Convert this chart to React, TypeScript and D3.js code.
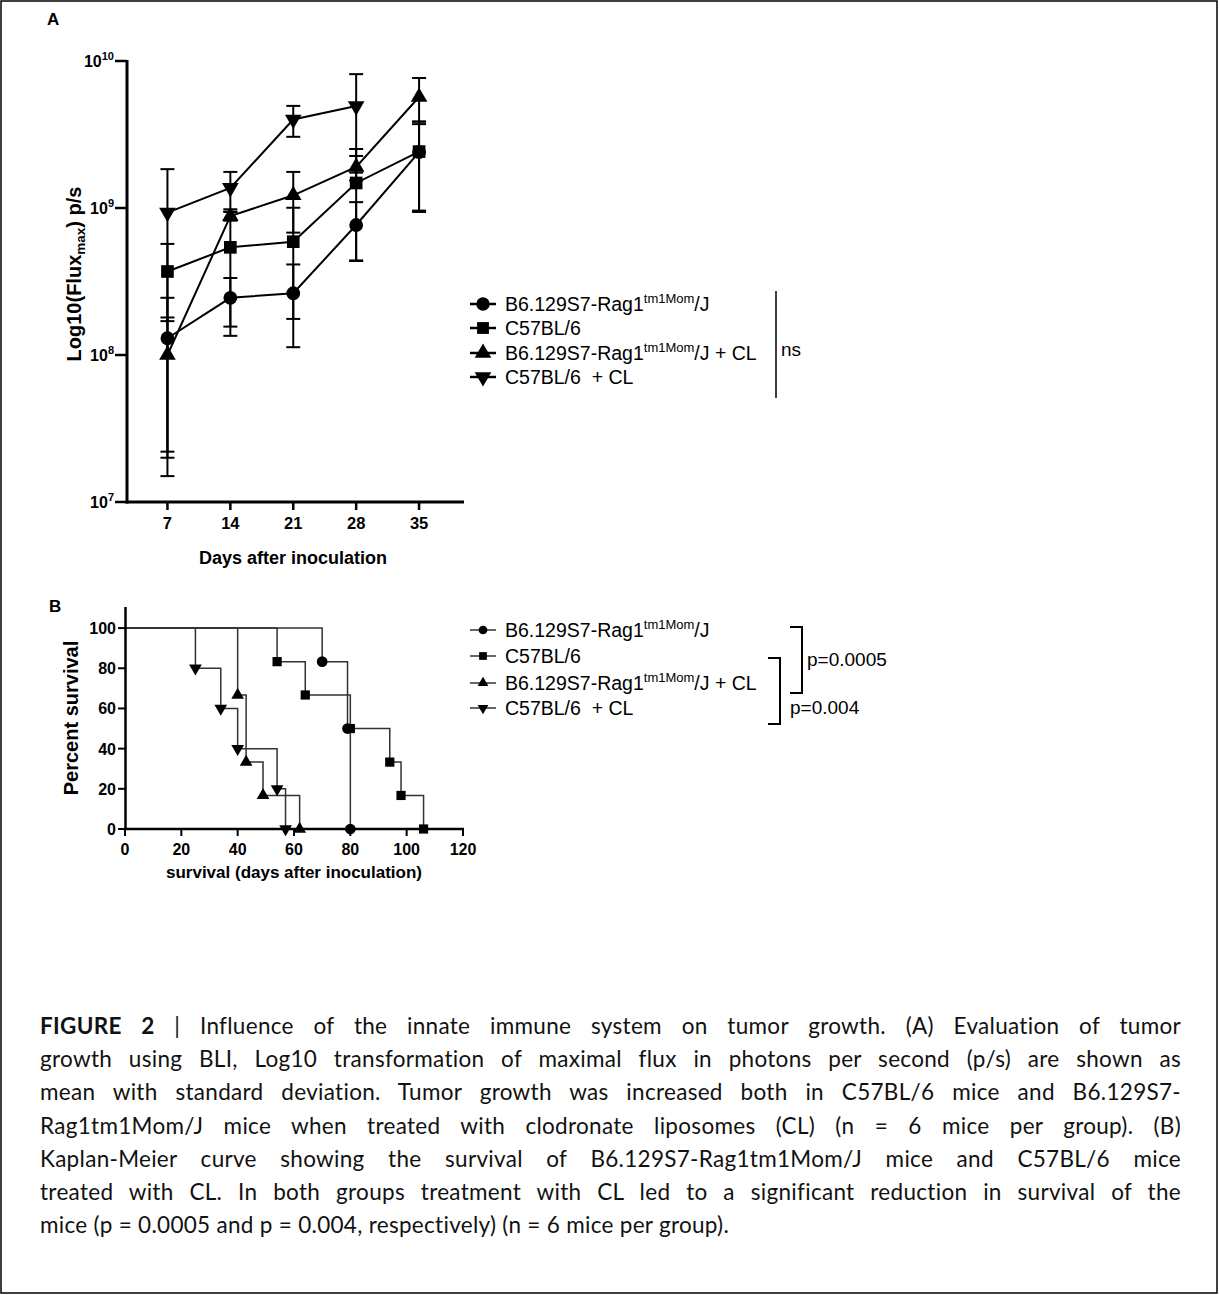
import React, { useLayoutEffect, useRef, useState } from 'react';
import * as d3 from 'd3';

// panel A: tumour growth (mean, SD) per group
const days = [7, 14, 21, 28, 35];
const ragMean = [1.3e8, 2.45e8, 2.63e8, 7.66e8, 2.4e9];
const ragSd = [1.15e8, 0.89e8, 1.5e8, 3.3e8, 1.46e9];
const c57Mean = [3.7e8, 5.4e8, 5.9e8, 1.48e9, 2.42e9];
const c57Sd = [2.0e8, 4.05e8, 4.14e8, 1.04e9, 1.46e9];
const ragClMean = [1.0e8, 8.8e8, 1.22e9, 1.9e9, 5.69e9];
const ragClSd = [0.8e8, 0.6e8, 0.54e9, 0.36e9, 1.97e9];
const c57ClMean = [9.3e8, 1.37e9, 4.0e9, 4.94e9];
const c57ClSd = [9.08e8, 3.9e8, 0.95e9, 3.2e9];
const yTicksA = [1e7, 1e8, 1e9, 1e10];

// panel B: Kaplan-Meier events (day, percent surviving after)
const ragKmDays = [70, 79, 80];
const ragKmSurv = [83.3, 50, 0];
const c57KmDays = [54, 64, 80, 94, 98, 106];
const c57KmSurv = [83.3, 66.7, 50, 33.3, 16.7, 0];
const ragClKmDays = [40, 43, 49, 62];
const ragClKmSurv = [66.7, 33.3, 16.7, 0];
const c57ClKmDays = [25, 34, 40, 54, 57];
const c57ClKmSurv = [80, 60, 40, 20, 0];
const xTicksB = [0, 20, 40, 60, 80, 100, 120];
const yTicksB = [0, 20, 40, 60, 80, 100];

const legendMain = ['B6.129S7-Rag1', 'C57BL/6', 'B6.129S7-Rag1', 'C57BL/6  + CL'];
const legendSup = ['tm1Mom', '', 'tm1Mom', ''];
const legendTail = ['/J', '', '/J + CL', ''];
const shapes = ['circle', 'square', 'up', 'down'];

const captionLines = [
  'Influence of the innate immune system on tumor growth. (A) Evaluation of tumor',
  'growth using BLI, Log10 transformation of maximal flux in photons per second (p/s) are shown as',
  'mean with standard deviation. Tumor growth was increased both in C57BL/6 mice and B6.129S7-',
  'Rag1tm1Mom/J mice when treated with clodronate liposomes (CL) (n = 6 mice per group). (B)',
  'Kaplan-Meier curve showing the survival of B6.129S7-Rag1tm1Mom/J mice and C57BL/6 mice',
  'treated with CL. In both groups treatment with CL led to a significant reduction in survival of the',
  'mice (p = 0.0005 and p = 0.004, respectively) (n = 6 mice per group).',
];

const FONT = '"Liberation Sans", Arial, sans-serif';
const CAP_W = 1141;

function marker(kind: string, size: number) {
  const t = kind === 'circle' ? d3.symbolCircle : kind === 'square' ? d3.symbolSquare : d3.symbolTriangle;
  return d3.symbol(t, size)() as string;
}

function Marker({ kind, x, y, size }: { kind: string; x: number; y: number; size: number }) {
  return (
    <path
      d={marker(kind, size)}
      transform={`translate(${x},${y})${kind === 'down' ? ' rotate(180)' : ''}`}
      fill="#000"
    />
  );
}

function Legend({ rows, lineColor, lineW, sizes }: { rows: number[]; lineColor: string; lineW: number; sizes: number[] }) {
  return (
    <g>
      {rows.map((ly, i) => (
        <g key={i}>
          <line x1={470} x2={496} y1={ly} y2={ly} stroke={lineColor} strokeWidth={lineW} />
          <Marker kind={shapes[i]} x={483} y={ly} size={sizes[i]} />
          <text x={505} y={ly + 6.5} fontSize={19.5} style={{ whiteSpace: 'pre' }}>
            {legendMain[i]}
            {legendSup[i] && <tspan fontSize={13} dy={-8}>{legendSup[i]}</tspan>}
            {legendTail[i] && <tspan dy={legendSup[i] ? 8 : 0}>{legendTail[i]}</tspan>}
          </text>
        </g>
      ))}
    </g>
  );
}

export default function App() {
  const capRef = useRef<SVGGElement>(null);
  const [spacing, setSpacing] = useState<number[]>([]);

  // justify caption lines by word spacing
  useLayoutEffect(() => {
    if (!capRef.current) return;
    const texts = capRef.current.querySelectorAll('text');
    const ws: number[] = [];
    texts.forEach((t, i) => {
      const len = (t as SVGTextElement).getComputedTextLength();
      const full = i === 0 ? 'FIGURE 2 | ' + captionLines[0] : captionLines[i];
      const gaps = full.split(' ').length - 1;
      ws.push(i === captionLines.length - 1 ? 0 : (CAP_W - len) / gaps);
    });
    setSpacing(ws);
  }, []);

  // panel A scales
  const xA = d3.scaleLinear().domain([2.5, 40]).range([127, 464]);
  const yA = d3.scaleLog().domain([1e7, 1e10]).range([502, 61]);

  const growth = [
    { means: ragMean, sds: ragSd },
    { means: c57Mean, sds: c57Sd },
    { means: ragClMean, sds: ragClSd },
    { means: c57ClMean, sds: c57ClSd },
  ];

  const lineA = d3.line<[number, number]>().x(d => xA(d[0])).y(d => yA(d[1]));

  // panel B scales
  const xB = d3.scaleLinear().domain([0, 120]).range([125, 463]);
  const yB = d3.scaleLinear().domain([0, 110]).range([829, 608]);
  const km = [
    { d: ragKmDays, s: ragKmSurv },
    { d: c57KmDays, s: c57KmSurv },
    { d: ragClKmDays, s: ragClKmSurv },
    { d: c57ClKmDays, s: c57ClKmSurv },
  ];
  const stepLine = d3.line<[number, number]>().x(d => xB(d[0])).y(d => yB(d[1])).curve(d3.curveStepAfter);

  return (
    <svg width={1219} height={1295} style={{ position: 'absolute', left: 0, top: 0, background: '#fff' }} fontFamily={FONT}>
      <rect x={0} y={0} width={1219} height={1295} fill="#fff" />
      <rect x={1} y={1} width={1216} height={1292} fill="none" stroke="#000" strokeWidth={1.5} />

      {/* ---------- Panel A ---------- */}
      <text x={47} y={25} fontSize={17} fontWeight="bold">A</text>

      {growth.map((g, gi) => {
        const pts = g.means.map((m, i) => [days[i], m] as [number, number]);
        return (
          <g key={gi}>
            {g.means.map((m, i) => {
              const x = xA(days[i]);
              const hi = m + g.sds[i];
              const loV = m - g.sds[i];
              const lo = loV > 1e7 ? loV : 1e7;
              return (
                <g key={i} stroke="#000" strokeWidth={2}>
                  <line x1={x} x2={x} y1={yA(lo)} y2={yA(hi)} />
                  <line x1={x - 7} x2={x + 7} y1={yA(hi)} y2={yA(hi)} />
                  {loV > 1e7 && <line x1={x - 7} x2={x + 7} y1={yA(lo)} y2={yA(lo)} />}
                </g>
              );
            })}
            <path d={lineA(pts) as string} fill="none" stroke="#000" strokeWidth={2} />
            {pts.map((p, i) => (
              <Marker key={i} kind={shapes[gi]} x={xA(p[0])} y={yA(p[1])} size={shapes[gi] === 'circle' ? 150 : shapes[gi] === 'square' ? 160 : 120} />
            ))}
          </g>
        );
      })}

      {/* axes A */}
      <line x1={127} x2={127} y1={60} y2={503.5} stroke="#000" strokeWidth={3} />
      <line x1={125.5} x2={464} y1={502} y2={502} stroke="#000" strokeWidth={3} />
      {yTicksA.map(t => (
        <g key={t}>
          <line x1={115} x2={127} y1={yA(t)} y2={yA(t)} stroke="#000" strokeWidth={2.5} />
          <text x={114} y={yA(t) + 5.5} textAnchor="end" fontSize={16} fontWeight="bold">
            10<tspan fontSize={11} dy={-6.5}>{Math.round(Math.log10(t))}</tspan>
          </text>
        </g>
      ))}
      {days.map(d => (
        <g key={d}>
          <line x1={xA(d)} x2={xA(d)} y1={502} y2={510} stroke="#000" strokeWidth={2.5} />
          <text x={xA(d)} y={529} textAnchor="middle" fontSize={16.5} fontWeight="bold">{d}</text>
        </g>
      ))}
      <text x={293} y={564} textAnchor="middle" fontSize={18} fontWeight="bold">Days after inoculation</text>
      <text transform="translate(81,274) rotate(-90)" textAnchor="middle" fontSize={20} fontWeight="bold">
        Log10(Flux<tspan fontSize={13.5} dy={4}>max</tspan><tspan dy={-4}>) p/s</tspan>
      </text>

      <Legend rows={[304, 328, 353, 377]} lineColor="#000" lineW={2.5} sizes={[140, 140, 120, 120]} />
      <line x1={776} x2={776} y1={291} y2={398} stroke="#000" strokeWidth={1.5} />
      <text x={781} y={356} fontSize={19}>ns</text>

      {/* ---------- Panel B ---------- */}
      <text x={49} y={612} fontSize={17} fontWeight="bold">B</text>

      {km.map((k, gi) => {
        const pts: [number, number][] = [[0, 100], ...k.d.map((d, i) => [d, k.s[i]] as [number, number])];
        return (
          <g key={gi}>
            <path d={stepLine(pts) as string} fill="none" stroke="#333" strokeWidth={1.5} />
            {k.d.map((d, i) => (
              <Marker key={i} kind={shapes[gi]} x={xB(d)} y={yB(k.s[i])} size={shapes[gi] === 'circle' ? 90 : shapes[gi] === 'square' ? 85 : 70} />
            ))}
          </g>
        );
      })}

      {/* axes B */}
      <line x1={125.5} x2={125.5} y1={607} y2={830} stroke="#000" strokeWidth={2.5} />
      <line x1={124} x2={464} y1={829} y2={829} stroke="#000" strokeWidth={2.5} />
      {yTicksB.map(t => (
        <g key={t}>
          <line x1={118} x2={125} y1={yB(t)} y2={yB(t)} stroke="#000" strokeWidth={2} />
          <text x={116} y={yB(t) + 6} textAnchor="end" fontSize={16} fontWeight="bold">{t}</text>
        </g>
      ))}
      {xTicksB.map(t => (
        <g key={t}>
          <line x1={xB(t)} x2={xB(t)} y1={829} y2={836} stroke="#000" strokeWidth={2} />
          <text x={xB(t)} y={855} textAnchor="middle" fontSize={16} fontWeight="bold">{t}</text>
        </g>
      ))}
      <text x={294} y={878} textAnchor="middle" fontSize={17} fontWeight="bold">survival (days after inoculation)</text>
      <text transform="translate(78,718) rotate(-90)" textAnchor="middle" fontSize={20} fontWeight="bold">Percent survival</text>

      <Legend rows={[630, 656, 683, 708]} lineColor="#333" lineW={1.5} sizes={[60, 60, 50, 50]} />
      <path d="M790,627H802V693H790" fill="none" stroke="#000" strokeWidth={2} />
      <text x={807} y={666} fontSize={19}>p=0.0005</text>
      <path d="M768,658H780V724H768" fill="none" stroke="#000" strokeWidth={2} />
      <text x={790} y={714} fontSize={19}>p=0.004</text>

      {/* ---------- Caption ---------- */}
      <g ref={capRef}>
        {captionLines.map((ln, i) => (
          <text
            key={i}
            x={40}
            y={1034 + i * 33.2}
            fontFamily="Lato, 'Open Sans', sans-serif"
            fontSize={22.5}
            letterSpacing={0.3}
            fill="#111"
            wordSpacing={spacing[i] || 0}
            style={{ whiteSpace: 'pre' }}
          >
            {i === 0 && <tspan fontWeight="bold">FIGURE 2</tspan>}
            {i === 0 ? ' | ' + ln : ln}
          </text>
        ))}
      </g>
    </svg>
  );
}
